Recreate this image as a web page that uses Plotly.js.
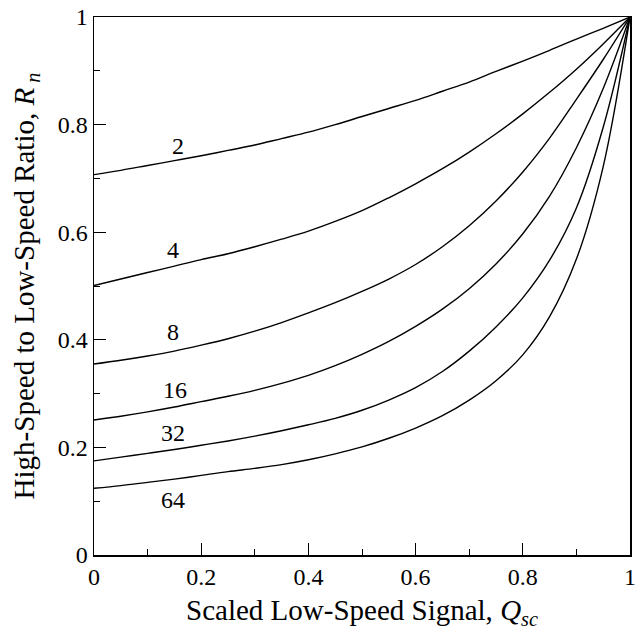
<!DOCTYPE html>
<html>
<head>
<meta charset="utf-8">
<script src="https://cdn.plot.ly/plotly-3.0.1.min.js"></script>
<style>html,body{margin:0;padding:0;background:#fff;}#chart{width:635px;height:632px;}</style>
</head>
<body>
<div id="chart"></div>
<script>
// Scaled low-speed signal Q_sc (x)
const qsc = [0, 0.05, 0.1, 0.15, 0.2, 0.25, 0.3, 0.35, 0.4, 0.45, 0.5, 0.55, 0.6, 0.65, 0.7, 0.75, 0.8, 0.85, 0.9, 0.95, 1.0];
// Curve labels (n)
const curveLabels = ["2", "4", "8", "16", "32", "64"];
// High-speed to low-speed ratio R_n for each n
const r2  = [0.707, 0.715, 0.724, 0.733, 0.742, 0.752, 0.762, 0.774, 0.786, 0.800, 0.815, 0.830, 0.845, 0.862, 0.879, 0.899, 0.918, 0.938, 0.959, 0.979, 1.0];
const r4  = [0.501, 0.513, 0.525, 0.537, 0.549, 0.560, 0.573, 0.587, 0.602, 0.620, 0.640, 0.664, 0.690, 0.718, 0.749, 0.783, 0.820, 0.860, 0.903, 0.950, 1.0];
const r8  = [0.355, 0.362, 0.370, 0.379, 0.390, 0.402, 0.416, 0.432, 0.450, 0.469, 0.490, 0.513, 0.540, 0.573, 0.612, 0.658, 0.712, 0.775, 0.847, 0.921, 1.0];
const r16 = [0.251, 0.258, 0.266, 0.275, 0.285, 0.295, 0.306, 0.319, 0.334, 0.352, 0.373, 0.397, 0.425, 0.457, 0.495, 0.541, 0.597, 0.667, 0.757, 0.867, 1.0];
const r32 = [0.175, 0.182, 0.189, 0.196, 0.204, 0.212, 0.221, 0.231, 0.242, 0.254, 0.269, 0.288, 0.311, 0.341, 0.379, 0.424, 0.478, 0.548, 0.645, 0.795, 1.0];
const r64 = [0.124, 0.129, 0.135, 0.141, 0.148, 0.155, 0.161, 0.168, 0.177, 0.188, 0.201, 0.217, 0.236, 0.259, 0.288, 0.324, 0.372, 0.443, 0.550, 0.722, 1.0];
const seriesY = [r2, r4, r8, r16, r32, r64];
// Label anchor positions (data coords)
const labelX = [0.157, 0.148, 0.148, 0.151, 0.148, 0.148];
const labelY = [0.761, 0.567, 0.415, 0.307, 0.226, 0.102];

const FONT = '"Liberation Serif", "Times New Roman", Times, serif';

const traces = seriesY.map((ys, i) => ({
  x: qsc, y: ys, type: "scatter", mode: "lines",
  line: {color: "#000", width: 1.4, shape: "spline", smoothing: 1},
  name: curveLabels[i], hoverinfo: "skip"
}));

const annotations = curveLabels.map((t, i) => ({
  x: labelX[i], y: labelY[i], xref: "x", yref: "y", text: t,
  showarrow: false, font: {family: FONT, size: 24, color: "#000"},
  xanchor: "center", yanchor: "middle"
}));

const axisCommon = {
  range: [0, 1], dtick: 0.2, tick0: 0,
  showgrid: false, zeroline: false,
  showline: true, linecolor: "#000", linewidth: 1.5, mirror: true,
  ticks: "inside", ticklen: 12, tickwidth: 1.2, tickcolor: "#000",
  ticklabeloverflow: "allow",
  tickfont: {family: FONT, size: 24, color: "#000"},
  minor: {dtick: 0.1, ticks: "inside", ticklen: 6, tickwidth: 1, tickcolor: "#000", showgrid: false}
};

const layout = {
  width: 635, height: 632,
  margin: {l: 94, r: 5, t: 17, b: 77},
  paper_bgcolor: "#fff", plot_bgcolor: "#fff",
  showlegend: false,
  font: {family: FONT, color: "#000"},
  xaxis: Object.assign({}, axisCommon, {
    tickfont: {family: FONT, size: 24, color: "#000"},
    title: {text: "Scaled Low-Speed Signal, <i>Q</i><sub><i>sc</i></sub>", font: {family: FONT, size: 29, color: "#000"}, standoff: 10}
  }),
  yaxis: Object.assign({}, axisCommon, {
    tickfont: {family: FONT, size: 24, color: "#000"},
    title: {text: "High-Speed to Low-Speed Ratio, <i>R</i><sub><i> n</i></sub>", font: {family: FONT, size: 29, color: "#000"}, standoff: 14}
  }),
  annotations: annotations
};

Plotly.newPlot("chart", traces, layout, {displayModeBar: false, staticPlot: true});
</script>
</body>
</html>
